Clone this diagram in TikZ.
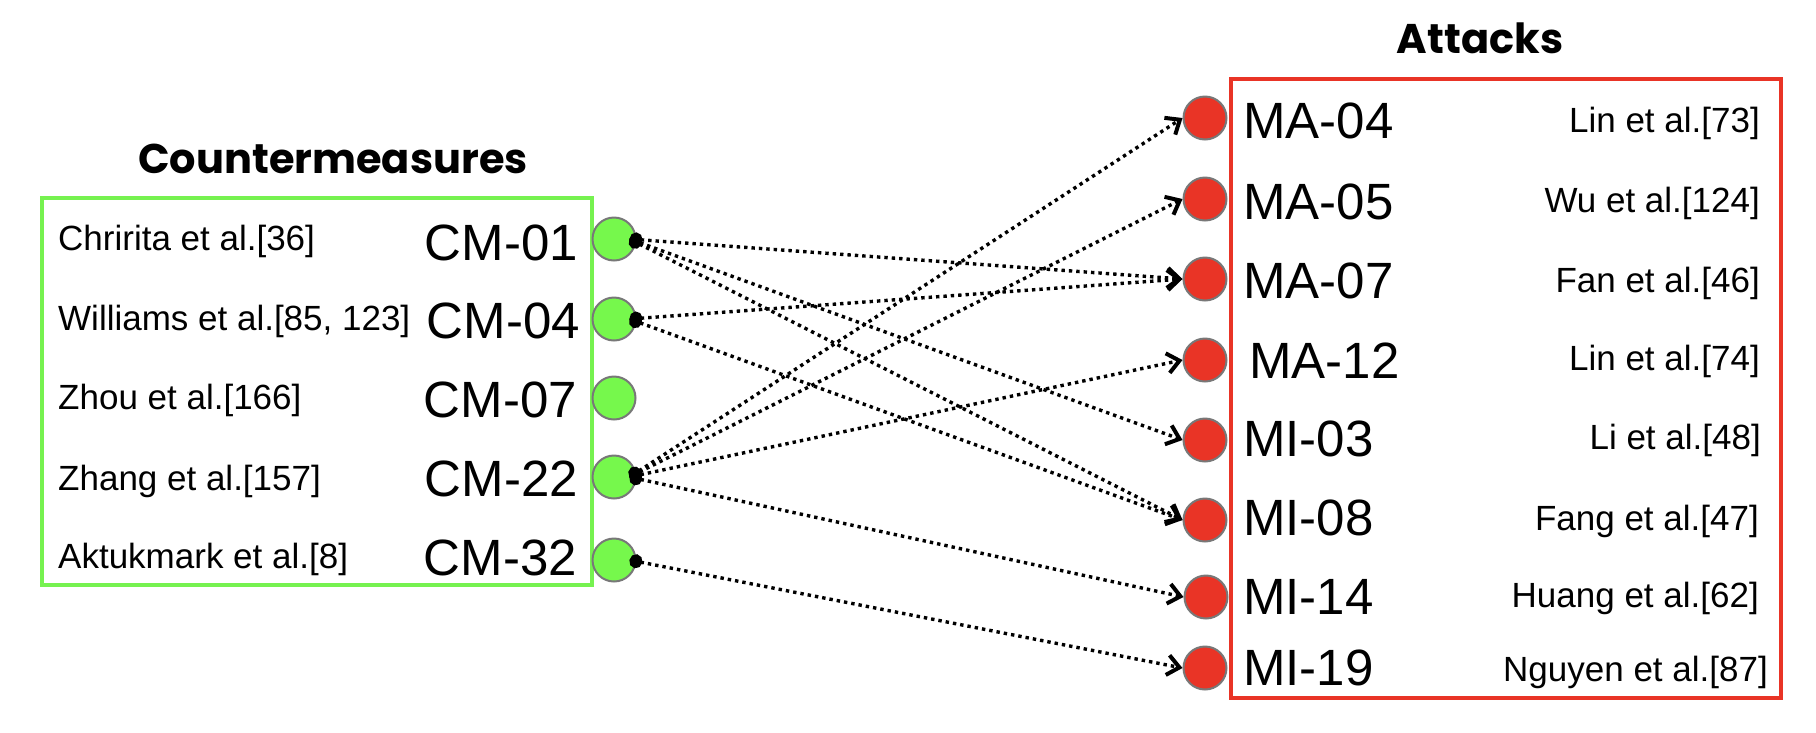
\documentclass[tikz,border=0pt]{standalone}
\usepackage{fontspec}
\setmainfont{Liberation Sans}
\newfontfamily\titlefont{Poppins}
\usetikzlibrary{arrows.meta}
\definecolor{cmgreen}{RGB}{118,248,76}
\definecolor{boxgreen}{RGB}{118,242,80}
\definecolor{atkred}{RGB}{233,52,38}
\definecolor{ringgray}{RGB}{120,120,120}
\begin{document}
\begin{tikzpicture}[x=1pt,y=-1pt,
  dotnode/.style={circle, draw=ringgray, line width=2pt, minimum size=43pt, inner sep=0pt},
  cmdot/.style={dotnode, fill=cmgreen},
  atdot/.style={dotnode, fill=atkred},
  cite/.style={font=\fontsize{35}{40}\selectfont, inner sep=0pt},
  code/.style={font=\fontsize{51}{60}\selectfont, inner sep=0pt},
  titletext/.style={font=\titlefont\bfseries\fontsize{41.5}{48}\selectfont, inner sep=0pt, anchor=base},
  link/.style={line width=3.4pt, dash pattern=on 3.4pt off 4pt,
    {Circle[length=13pt,width=14pt]}-{Straight Barb[length=12pt,width=20pt,line width=4pt]}}
]
\fill[white] (0,0) rectangle (1816,732);
\useasboundingbox (0,0) rectangle (1816,732);

% ---- Countermeasures ----
\node[titletext] (cmtitle) at (333,173) {Countermeasures};
\draw[boxgreen, line width=4pt] (42,198) rectangle (592,585);

\node[cite, anchor=base west] (c01) at (58,250) {Chririta et al.[36]};
\node[cite, anchor=base west] (c04) at (58,330) {Williams et al.[85, 123]};
\node[cite, anchor=base west] (c07) at (58,409) {Zhou et al.[166]};
\node[cite, anchor=base west] (c22) at (58,490) {Zhang et al.[157]};
\node[cite, anchor=base west] (c32) at (58,568) {Aktukmark et al.[8]};

\node[code, anchor=base east] (l01) at (578,260) {CM-01};
\node[code, anchor=base east] (l04) at (580,338) {CM-04};
\node[code, anchor=base east] (l07) at (577,417) {CM-07};
\node[code, anchor=base east] (l22) at (578,496) {CM-22};
\node[code, anchor=base east] (l32) at (577,575) {CM-32};

\node[cmdot] (cm01) at (614,239) {};
\node[cmdot] (cm04) at (614,319) {};
\node[cmdot] (cm07) at (614,398) {};
\node[cmdot] (cm22) at (614,477) {};
\node[cmdot] (cm32) at (614,560) {};

% ---- Attacks ----
\node[titletext] (attitle) at (1480,53) {Attacks};
\draw[atkred, line width=4pt] (1231,79) rectangle (1781,698);

\node[atdot] (ma04) at (1205,118) {};
\node[atdot] (ma05) at (1205,199) {};
\node[atdot] (ma07) at (1205,279) {};
\node[atdot] (ma12) at (1205,360) {};
\node[atdot] (mi03) at (1205,440) {};
\node[atdot] (mi08) at (1205,520) {};
\node[atdot] (mi14) at (1206,597) {};
\node[atdot] (mi19) at (1205,668) {};

\node[code, anchor=base west] (lma04) at (1243,138) {MA-04};
\node[code, anchor=base west] (lma05) at (1243,219) {MA-05};
\node[code, anchor=base west] (lma07) at (1243,298) {MA-07};
\node[code, anchor=base west] (lma12) at (1249,378) {MA-12};
\node[code, anchor=base west] (lmi03) at (1243,456) {MI-03};
\node[code, anchor=base west] (lmi08) at (1243,535) {MI-08};
\node[code, anchor=base west] (lmi14) at (1243,614) {MI-14};
\node[code, anchor=base west] (lmi19) at (1243,685) {MI-19};

\node[cite, anchor=base east] (rma04) at (1760,132) {Lin et al.[73]};
\node[cite, anchor=base east] (rma05) at (1760,212) {Wu et al.[124]};
\node[cite, anchor=base east] (rma07) at (1760,292) {Fan et al.[46]};
\node[cite, anchor=base east] (rma12) at (1760,370) {Lin et al.[74]};
\node[cite, anchor=base east] (rmi03) at (1761,449) {Li et al.[48]};
\node[cite, anchor=base east] (rmi08) at (1759,530) {Fang et al.[47]};
\node[cite, anchor=base east] (rmi14) at (1759,607) {Huang et al.[62]};
\node[cite, anchor=base east] (rmi19) at (1768,681) {Nguyen et al.[87]};

% ---- links ----
\draw[link] ([xshift=-7pt]cm01.east) -- (ma07.west);
\draw[link] ([xshift=-7pt]cm01.east) -- (mi03.west);
\draw[link] ([xshift=-7pt]cm01.east) -- (mi08.west);
\draw[link] ([xshift=-7pt]cm04.east) -- (ma07.west);
\draw[link] ([xshift=-7pt]cm04.east) -- (mi08.west);
\draw[link] ([xshift=-7pt]cm22.east) -- (ma04.west);
\draw[link] ([xshift=-7pt]cm22.east) -- (ma05.west);
\draw[link] ([xshift=-7pt]cm22.east) -- (ma12.west);
\draw[link] ([xshift=-7pt]cm22.east) -- (mi14.west);
\draw[link] ([xshift=-7pt]cm32.east) -- (mi19.west);
\end{tikzpicture}
\end{document}
